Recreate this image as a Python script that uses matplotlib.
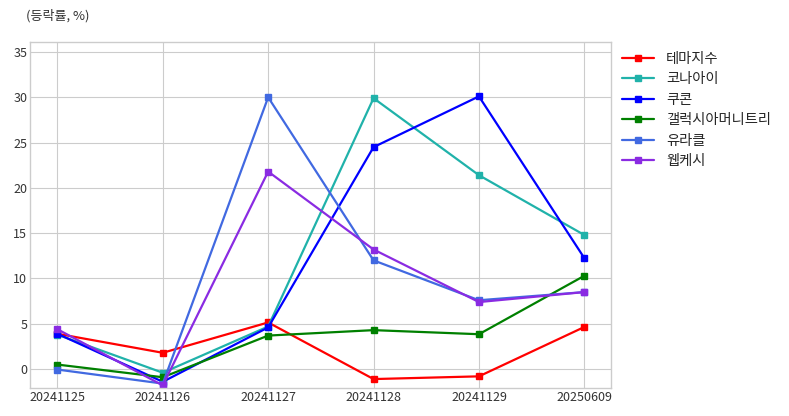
import matplotlib
matplotlib.use('Agg')
import matplotlib.pyplot as plt

dates = ['20241125', '20241126', '20241127', '20241128', '20241129', '20250609']

series_names = ['테마지수', '코나아이', '쿠콘', '갤럭시아머니트리', '유라클', '웹케시']
theme_idx = [3.9, 1.8, 5.15, -1.1, -0.8, 4.65]
konai = [3.8, -0.4, 4.7, 29.9, 21.4, 14.8]
coocon = [3.9, -1.4, 4.6, 24.5, 30.1, 12.25]
galaxia = [0.5, -0.9, 3.7, 4.3, 3.85, 10.3]
uracle = [-0.05, -1.6, 30.0, 12.0, 7.6, 8.5]
webcash = [4.4, -1.8, 21.8, 13.2, 7.4, 8.5]

colors = ['red', 'lightseagreen', 'blue', 'green', 'royalblue', 'blueviolet']

plt.style.use('seaborn-v0_8-whitegrid')
plt.rcParams['font.family'] = ['Noto Sans CJK KR', 'DejaVu Sans']

fig = plt.figure(figsize=(7.89, 4.16), dpi=100)
ax = fig.add_axes([0.038, 0.067, 0.736, 0.832])

x = list(range(len(dates)))
for name, vals, c in zip(series_names,
                         [theme_idx, konai, coocon, galaxia, uracle, webcash],
                         colors):
    ax.plot(x, vals, color=c, marker='s', markersize=4.5, linewidth=1.6, label=name)

ax.set_xticks(x)
ax.set_xticklabels(dates)
ax.set_xlim(-0.26, 5.25)
ax.set_ylim(-2.1, 36.1)
ax.set_yticks([0, 5, 10, 15, 20, 25, 30, 35])
ax.tick_params(labelsize=9, colors='#333333', pad=2)
for s in ax.spines.values():
    s.set_visible(True)
    s.set_color('#cccccc')
    s.set_linewidth(1.0)

ax.legend(loc='upper left', bbox_to_anchor=(1.003, 1.0), frameon=False, fontsize=10.3,
          handlelength=2.2, labelspacing=0.45, borderaxespad=0.3, handletextpad=0.85)

fig.text(0.033, 0.963, '(등락률, %)', fontsize=9.4, color='#333333', ha='left', va='center')

fig.savefig('out.png', dpi=100)
